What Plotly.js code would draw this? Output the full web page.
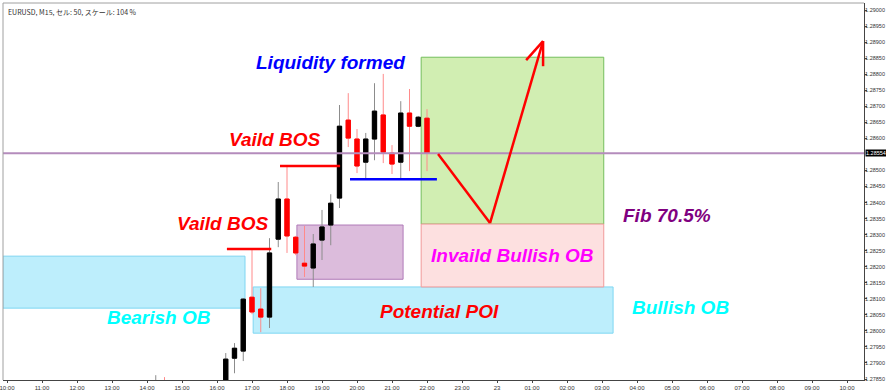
<!DOCTYPE html>
<html>
<head>
<meta charset="utf-8">
<script src="https://cdn.plot.ly/plotly-3.0.1.min.js"></script>
<style>html,body{margin:0;padding:0;background:#fff;}#chart{width:886px;height:392px;}</style>
</head>
<body>
<div id="chart"></div>
<script>
// ---- data (EURUSD M15) ----
const times = ['2024-01-22 14:15','2024-01-22 14:30','2024-01-22 16:15','2024-01-22 16:30','2024-01-22 16:45',
  '2024-01-22 17:00','2024-01-22 17:15','2024-01-22 17:30','2024-01-22 17:45','2024-01-22 18:00',
  '2024-01-22 18:15','2024-01-22 18:30','2024-01-22 18:45','2024-01-22 19:00','2024-01-22 19:15',
  '2024-01-22 19:30','2024-01-22 19:45','2024-01-22 20:00','2024-01-22 20:15','2024-01-22 20:30',
  '2024-01-22 20:45','2024-01-22 21:00','2024-01-22 21:15','2024-01-22 21:30','2024-01-22 21:45','2024-01-22 22:00'];
const openP  = [1.27800,1.27825,1.27784,1.27915,1.27937,1.28105,1.28068,1.28043,1.28286,1.28411,1.28292,1.28211,1.28196,1.28283,1.28330,1.28414,1.28657,1.28598,1.28526,1.28598,1.28673,1.28554,1.28526,1.28679,1.28638,1.28663];
const highP  = [1.27862,1.27856,1.27931,1.27962,1.28102,1.28252,1.28133,1.28289,1.28464,1.28514,1.28296,1.28327,1.28302,1.28377,1.28426,1.28704,1.28741,1.28629,1.28617,1.28772,1.28801,1.28579,1.28716,1.28754,1.28670,1.28691];
const lowP   = [1.27784,1.27791,1.27769,1.27868,1.27906,1.28052,1.27996,1.28009,1.28261,1.28243,1.28236,1.28168,1.28137,1.28221,1.28267,1.28383,1.28573,1.28492,1.28476,1.28532,1.28523,1.28489,1.28476,1.28498,1.28635,1.28498];
const closeP = [1.27828,1.27806,1.27912,1.27946,1.28099,1.28059,1.28043,1.28243,1.28411,1.28296,1.28243,1.28202,1.28271,1.28324,1.28398,1.28638,1.28601,1.28514,1.28598,1.28685,1.28557,1.28520,1.28679,1.28638,1.28666,1.28554];
const currentPrice = 1.28554;

const tickTimes = ['2024-01-22 10:00','2024-01-22 11:00','2024-01-22 12:00','2024-01-22 13:00','2024-01-22 14:00',
  '2024-01-22 15:00','2024-01-22 16:00','2024-01-22 17:00','2024-01-22 18:00','2024-01-22 19:00','2024-01-22 20:00',
  '2024-01-22 21:00','2024-01-22 22:00','2024-01-22 23:00','2024-01-23 00:00','2024-01-23 01:00','2024-01-23 02:00',
  '2024-01-23 03:00','2024-01-23 04:00','2024-01-23 05:00','2024-01-23 06:00','2024-01-23 07:00','2024-01-23 08:00',
  '2024-01-23 09:00','2024-01-23 10:00'];
const tickLabels = ['10:00','11:00','12:00','13:00','14:00','15:00','16:00','17:00','18:00','19:00','20:00','21:00',
  '22:00','23:00','23','01:00','02:00','03:00','04:00','05:00','06:00','07:00','08:00','09:00','10:00'];
// price ticks (1.28550 is covered by the current-price label)
const priceTicks = [1.27850,1.27900,1.27950,1.28000,1.28050,1.28100,1.28150,1.28200,1.28250,1.28300,1.28350,
  1.28400,1.28450,1.28500,1.28600,1.28650,1.28700,1.28750,1.28800,1.28850,1.28900,1.28950,1.29000];

// zones [start, end, low, high]
const bearishOB   = ['2024-01-22 09:53','2024-01-22 16:48',1.28071,1.28233];
const potentialPOI= ['2024-01-22 17:02','2024-01-23 03:19',1.27993,1.28137];
const purpleZone  = ['2024-01-22 18:17','2024-01-22 21:19',1.28161,1.28330];
const targetZone  = ['2024-01-22 21:50','2024-01-23 03:03',1.28333,1.28853];
const invalidOB   = ['2024-01-22 21:50','2024-01-23 03:03',1.28137,1.28333];
// levels [start, end, price]
const bosLow   = ['2024-01-22 16:17','2024-01-22 17:33',1.28255];
const bosHigh  = ['2024-01-22 17:48','2024-01-22 19:31',1.28514];
const liqLine  = ['2024-01-22 19:48','2024-01-22 22:17',1.28473];
// projected path
const pathT = ['2024-01-22 22:19','2024-01-22 23:48','2024-01-23 01:19'];
const pathP = [1.28551,1.28336,1.28903];
const headT = ['2024-01-23 00:50','2024-01-23 01:19'];
const headP = [1.28844,1.28825];

// ---- traces ----
const wicks = {
  type:'candlestick', x:times, open:openP, high:highP, low:lowP, close:closeP,
  increasing:{line:{color:'#8c8c8c',width:1}, fillcolor:'#000000'},
  decreasing:{line:{color:'#ff8a8a',width:1}, fillcolor:'#ff0000'},
  hoverinfo:'skip', showlegend:false
};
const bodies = {
  type:'candlestick', x:times, open:openP, close:closeP,
  high:openP.map((o,i)=>Math.max(o,closeP[i])), low:openP.map((o,i)=>Math.min(o,closeP[i])),
  increasing:{line:{color:'#000000',width:1}, fillcolor:'#000000'},
  decreasing:{line:{color:'#ff0000',width:1}, fillcolor:'#ff0000'},
  hoverinfo:'skip', showlegend:false
};

function rect(z, fill, line){
  return {type:'rect', xref:'x', yref:'y', x0:z[0], x1:z[1], y0:z[2], y1:z[3],
    fillcolor:fill, line:{color:line,width:1}, layer:'below'};
}
function hline(l, color, w){
  return {type:'line', xref:'x', yref:'y', x0:l[0], x1:l[1], y0:l[2], y1:l[2], line:{color:color,width:w}};
}
const shapes = [
  rect(bearishOB,'#bdeefc','#7fd6f2'),
  rect(potentialPOI,'#bdeefc','#7fd6f2'),
  rect(purpleZone,'#dcbcdc','#b07ab8'),
  rect(targetZone,'#d1eeb2','#74be5c'),
  rect(invalidOB,'#fde0e0','#f19a9a'),
  {type:'line', xref:'paper', yref:'y', x0:0, x1:1, y0:currentPrice, y1:currentPrice, line:{color:'#b48cbc',width:2}},
  hline(bosLow,'#ff0000',2.5),
  hline(bosHigh,'#ff0000',2.5),
  hline(liqLine,'#0000ff',2.5),
  {type:'line', xref:'x', yref:'y', x0:pathT[0], y0:pathP[0], x1:pathT[1], y1:pathP[1], line:{color:'#ff0000',width:2.5}},
  {type:'line', xref:'x', yref:'y', x0:pathT[1], y0:pathP[1], x1:pathT[2], y1:pathP[2], line:{color:'#ff0000',width:2.5}},
  {type:'line', xref:'x', yref:'y', x0:pathT[2], y0:pathP[2], x1:headT[0], y1:headP[0], line:{color:'#ff0000',width:2.5}},
  {type:'line', xref:'x', yref:'y', x0:pathT[2], y0:pathP[2], x1:headT[1], y1:headP[1], line:{color:'#ff0000',width:2.5}},
  {type:'line', xref:'paper', yref:'paper', x0:0, x1:1, y0:1, y1:1, line:{color:'#a0a0a0',width:1}},
  {type:'line', xref:'paper', yref:'paper', x0:0, x1:0, y0:0, y1:1, line:{color:'#a0a0a0',width:1}}
];

const F = 'Liberation Sans, Arial, sans-serif';
function label(t, x, y, color){
  return {text:'<b><i>'+t+'</i></b>', x:x, y:y, xref:'x', yref:'y', showarrow:false,
    xanchor:'center', yanchor:'middle', font:{family:F, size:19, color:color}};
}
const annotations = [
  label('Liquidity formed','2024-01-22 19:15',1.28838,'#0000ff'),
  label('Vaild BOS','2024-01-22 17:39',1.28598,'#ff0000'),
  label('Vaild BOS','2024-01-22 16:09',1.28336,'#ff0000'),
  label('Bearish OB','2024-01-22 14:20',1.28043,'#00ffff'),
  label('Potential POI','2024-01-22 22:21',1.28062,'#ff0000'),
  label('Bullish OB','2024-01-23 05:15',1.28074,'#00ffff'),
  label('Fib 70.5%','2024-01-23 04:52',1.28361,'#800080'),
  label('Invaild Bullish OB','2024-01-23 00:27',1.28236,'#ff00ff'),
  {text:'EURUSD, M15, セル: 50, スケール: 104 %', xref:'paper', yref:'paper', x:0.003, y:0.995,
    xanchor:'left', yanchor:'top', showarrow:false, font:{family:'Noto Sans CJK JP, sans-serif', size:7, color:'#333'}},
  {text:currentPrice.toFixed(5), xref:'paper', yref:'y', x:1, y:currentPrice, xanchor:'left', yanchor:'middle',
    xshift:1, showarrow:false, bgcolor:'#000000', borderpad:0, font:{family:F, size:5.5, color:'#ffffff'}}
];

const layout = {
  width:886, height:392, margin:{l:3, r:22, t:3, b:12},
  paper_bgcolor:'#ffffff', plot_bgcolor:'#ffffff', showlegend:false,
  xaxis:{type:'date', range:['2024-01-22 09:53:09','2024-01-23 10:29:09'], rangeslider:{visible:false},
    tickvals:tickTimes, ticktext:tickLabels, ticks:'outside', ticklen:2, tickcolor:'#444',
    ticklabeloverflow:'allow',
    showgrid:false, zeroline:false, showline:true, linecolor:'#444', linewidth:1,
    tickfont:{family:F, size:6, color:'#333'}, fixedrange:true},
  yaxis:{side:'right', range:[1.27847,1.29022], tickvals:priceTicks, tickformat:'.5f',
    ticks:'outside', ticklen:2, ticklabelstandoff:-3, tickcolor:'#444', showgrid:false, zeroline:false,
    showline:true, linecolor:'#444', linewidth:1, tickfont:{family:F, size:5.5, color:'#333'}, fixedrange:true},
  shapes:shapes, annotations:annotations
};
Plotly.newPlot('chart',[wicks,bodies],layout,{staticPlot:true, displayModeBar:false});
</script>
</body>
</html>
